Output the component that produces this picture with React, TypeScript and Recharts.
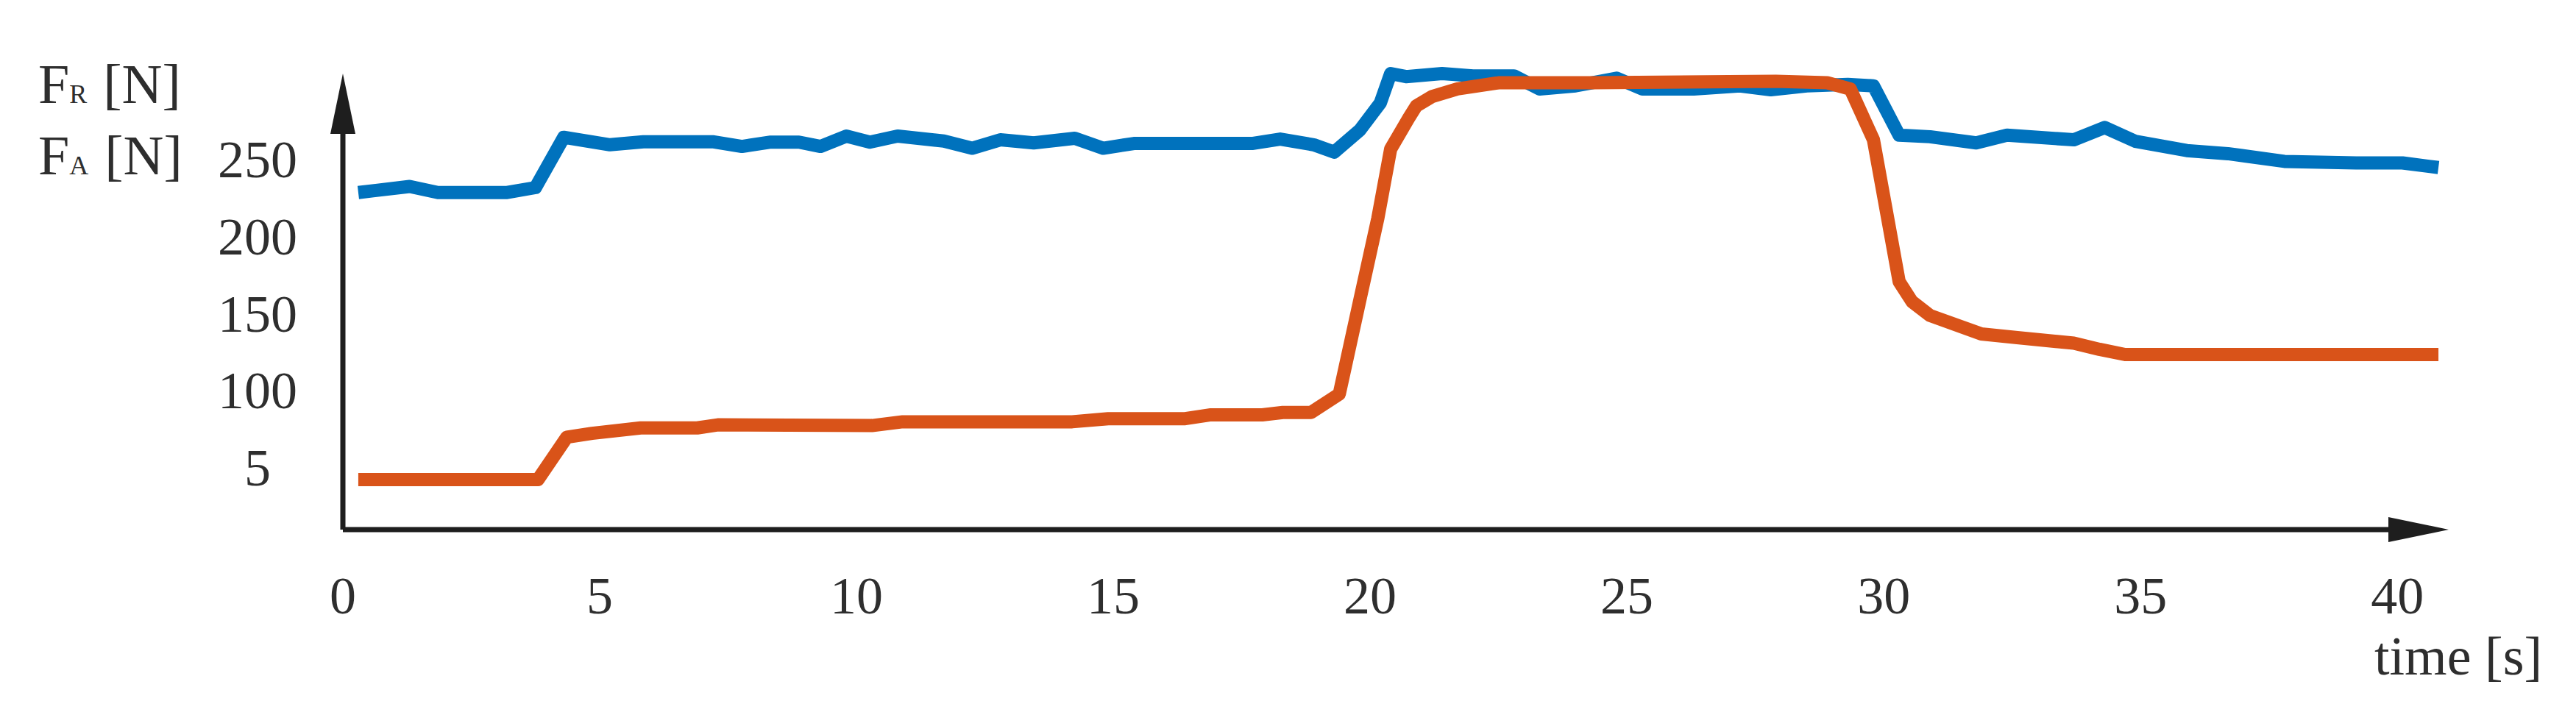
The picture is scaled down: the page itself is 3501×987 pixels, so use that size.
import { LineChart, Line, XAxis, YAxis, Label } from "recharts";

const timeTicks = [0, 5, 10, 15, 20, 25, 30, 35, 40];
const forceTicks = [50, 100, 150, 200, 250];
const forceTickLabels = ["5", "100", "150", "200", "250"];

const radialTime = [
  0.3, 1.3, 1.85, 3.2, 3.75, 4.3, 5.2, 5.85, 7.22, 7.77, 8.33, 8.88, 9.3, 9.8, 10.26, 10.8, 11.7,
  12.25, 12.8, 13.45, 14.25, 14.8, 15.4, 17.7, 18.25, 18.9, 19.3, 19.8, 20.2, 20.4, 20.7, 21.4,
  22.0, 22.8, 23.3, 24.0, 24.8, 25.3, 26.3, 27.2, 27.8, 28.5, 29.3, 29.8, 30.3, 30.9, 31.8, 32.4,
  33.7, 34.3, 34.9, 35.9, 36.7, 37.8, 39.2, 40.1, 40.8,
];
const radialForce = [
  228.8, 232.7, 228.8, 228.8, 232, 264.6, 259.8, 261.7, 261.7, 258.7, 261.5, 261.5, 258.7, 265.4,
  261.5, 265.4, 262.2, 257.5, 263, 261, 264, 257.5, 260.6, 260.6, 263.5, 259.8, 255, 269.3, 287,
  306, 304, 306, 304.5, 304.5, 296, 298, 303, 296, 296, 298, 295.5, 298, 299, 298, 266, 265, 261,
  266, 263, 271, 262, 256, 254, 249, 248, 248, 245,
];

const axialTime = [
  0.3, 3.8, 4.36, 4.85, 5.8, 6.9, 7.3, 10.3, 10.9, 14.2, 14.9, 16.4, 16.9, 17.9, 18.3, 18.85,
  19.4, 19.8, 20.15, 20.4, 20.75, 20.9, 21.2, 21.7, 22.5, 24.3, 27.9, 28.9, 29.35, 29.8, 30.3,
  30.55, 30.9, 31.9, 32.6, 33.7, 34.2, 34.7, 40.8,
];
const axialForce = [
  42.5, 42.5, 70, 72.5, 76, 76, 78, 77.5, 80, 80, 82, 82, 84.5, 84.5, 86, 86,
  98, 159, 212, 257, 277, 285, 291, 296, 300, 300, 301, 300, 296, 263, 171,
  158, 149, 137, 134.6, 131, 127, 123.6, 123.6,
];

const radialData = radialTime.map((t, i) => ({ t, f: radialForce[i] }));
const axialData = axialTime.map((t, i) => ({ t, f: axialForce[i] }));

const W = 3501;
const H = 987;
const margin = { top: 100, right: 173, bottom: 117, left: 0 };
const yAxisWidth = 466;
const xAxisHeight = 150;
const plotW = W - margin.left - margin.right - yAxisWidth;
const plotH = H - margin.top - margin.bottom - xAxisHeight;
const arrowLen = 82;

const ink = "#1e1e1e";
const textColor = "#2e2e2e";
const font = "'Liberation Serif', 'Times New Roman', serif";

function TimeTick({ x, y, payload }: any) {
  return (
    <text x={x} y={y + 114} textAnchor="middle" fontFamily={font} fontSize={72} fill={textColor}>
      {payload.value}
    </text>
  );
}

function ForceTick({ x, y, payload }: any) {
  const idx = forceTicks.indexOf(payload.value);
  return (
    <text x={x - 116} y={y} dy="0.33em" textAnchor="middle" fontFamily={font} fontSize={72} fill={textColor}>
      {forceTickLabels[idx]}
    </text>
  );
}

function ForceTitle({ viewBox }: any) {
  const x = viewBox.x + 52;
  const y = viewBox.y;
  return (
    <g fontFamily={font} fill={textColor}>
      <text x={x} y={y + 40} fontSize={76}>
        F<tspan fontSize={36}>R</tspan>
        <tspan dx={22}>[N]</tspan>
      </text>
      <text x={x} y={y + 137} fontSize={76}>
        F<tspan fontSize={36}>A</tspan>
        <tspan dx={22}>[N]</tspan>
      </text>
    </g>
  );
}

function TimeTitle({ viewBox }: any) {
  return (
    <text
      x={viewBox.x + viewBox.width - 101}
      y={viewBox.y + 197}
      fontFamily={font}
      fontSize={74}
      fill={textColor}
    >
      time [s]
    </text>
  );
}

export default function App() {
  return (
    <div style={{ position: "absolute", left: 0, top: 0, background: "#fff" }}>
      <LineChart width={W} height={H} margin={margin}>
        <defs>
          <marker
            id="axisArrow"
            markerUnits="userSpaceOnUse"
            viewBox="0 0 82 34"
            markerWidth={82}
            markerHeight={34}
            refX={82}
            refY={17}
            orient="auto-start-reverse"
          >
            <path d="M0,0 L82,17 L0,34 z" fill={ink} />
          </marker>
        </defs>
        <XAxis
          type="number"
          dataKey="t"
          domain={[0, 41]}
          ticks={timeTicks}
          height={xAxisHeight}
          tickSize={0}
          tickMargin={0}
          tickLine={false}
          tick={<TimeTick />}
          axisLine={{
            stroke: ink,
            strokeWidth: 7,
            strokeDasharray: `${plotW - arrowLen + 10} 5000`,
            markerEnd: "url(#axisArrow)",
          }}
        >
          <Label content={<TimeTitle />} />
        </XAxis>
        <YAxis
          type="number"
          domain={[10, 306]}
          ticks={forceTicks}
          width={yAxisWidth}
          tickSize={0}
          tickMargin={0}
          tickLine={false}
          tick={<ForceTick />}
          axisLine={{
            stroke: ink,
            strokeWidth: 7,
            strokeDasharray: `0 ${arrowLen - 10} ${plotH + 100}`,
            markerStart: "url(#axisArrow)",
          }}
        >
          <Label content={<ForceTitle />} />
        </YAxis>
        <Line
          data={radialData}
          dataKey="f"
          type="linear"
          stroke="#0072BD"
          strokeWidth={18}
          strokeLinejoin="round"
          dot={false}
          activeDot={false}
          isAnimationActive={false}
        />
        <Line
          data={axialData}
          dataKey="f"
          type="linear"
          stroke="#D95319"
          strokeWidth={18}
          strokeLinejoin="round"
          dot={false}
          activeDot={false}
          isAnimationActive={false}
        />
      </LineChart>
    </div>
  );
}
